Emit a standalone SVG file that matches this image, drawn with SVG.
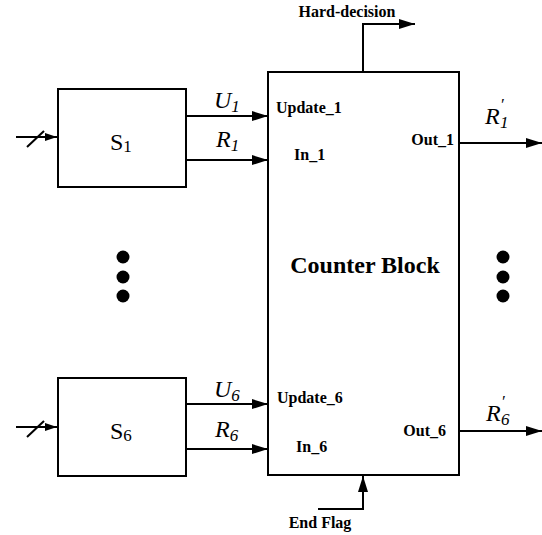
<svg xmlns="http://www.w3.org/2000/svg" width="542" height="535" viewBox="0 0 542 535">
<style>
.box{fill:#fff;stroke:#000;stroke-width:2}
.ln{fill:none;stroke:#000;stroke-width:2}
.b{font-family:"Liberation Serif","Times New Roman",serif;font-weight:bold;font-size:16px;fill:#000}
.r{font-family:"Liberation Serif","Times New Roman",serif;font-size:24px;fill:#000}
.i{font-family:"Liberation Serif","Times New Roman",serif;font-style:italic;font-size:24px;fill:#000}
.dot{fill:#000}
</style>
<defs>
<marker id="ah" markerUnits="userSpaceOnUse" markerWidth="16" markerHeight="10" refX="16" refY="5" orient="auto"><path d="M0,0 L16,5 L0,10 z" fill="#000"/></marker>
<marker id="as" markerUnits="userSpaceOnUse" markerWidth="12" markerHeight="8" refX="12" refY="4" orient="auto"><path d="M0,0 L12,4 L0,8 z" fill="#000"/></marker>
</defs>
<g id="s1">
<rect class="box" x="58" y="89" width="128" height="98"/>
<text class="r" x="110" y="150">S<tspan font-size="17" dy="2">1</tspan></text>
</g>
<g id="s6">
<rect class="box" x="58" y="378" width="128" height="98"/>
<text class="r" x="110" y="439">S<tspan font-size="17" dy="2">6</tspan></text>
</g>
<g id="counter">
<rect class="box" x="268" y="72" width="191" height="403"/>
<text class="r" x="365" y="273" text-anchor="middle" font-weight="bold">Counter Block</text>
<text class="b" x="276" y="113">Update_1</text>
<text class="b" x="294" y="160">In_1</text>
<text class="b" x="454" y="145" text-anchor="end">Out_1</text>
<text class="b" x="277" y="403">Update_6</text>
<text class="b" x="296" y="452">In_6</text>
<text class="b" x="446" y="436" text-anchor="end">Out_6</text>
</g>
<g id="dots-left">
<circle class="dot" cx="123" cy="257" r="6.5"/>
<circle class="dot" cx="123" cy="277" r="6.5"/>
<circle class="dot" cx="123" cy="296" r="6.5"/>
</g>
<g id="dots-right">
<circle class="dot" cx="503" cy="257" r="6.5"/>
<circle class="dot" cx="503" cy="277" r="6.5"/>
<circle class="dot" cx="503" cy="296" r="6.5"/>
</g>
<g id="connectors">
<line class="ln" x1="16" y1="137" x2="57" y2="137" marker-end="url(#as)"/>
<line class="ln" x1="27" y1="147" x2="44" y2="131"/>
<line class="ln" x1="16" y1="427" x2="57" y2="427" marker-end="url(#as)"/>
<line class="ln" x1="27" y1="437" x2="44" y2="421"/>
<line class="ln" x1="186" y1="116" x2="268" y2="116" marker-end="url(#ah)"/>
<line class="ln" x1="186" y1="160" x2="268" y2="160" marker-end="url(#ah)"/>
<line class="ln" x1="186" y1="404" x2="268" y2="404" marker-end="url(#ah)"/>
<line class="ln" x1="186" y1="449" x2="268" y2="449" marker-end="url(#ah)"/>
<line class="ln" x1="459" y1="143" x2="542" y2="143" marker-end="url(#ah)"/>
<line class="ln" x1="459" y1="431" x2="542" y2="431" marker-end="url(#ah)"/>
<polyline class="ln" points="363,72 363,24 415,24" marker-end="url(#ah)"/>
<polyline class="ln" points="318,509 363,509 363,476" marker-end="url(#ah)"/>
</g>
<g id="labels">
<text class="i" x="214" y="108">U<tspan font-size="17" dy="4">1</tspan></text>
<text class="i" x="216" y="147">R<tspan font-size="17" dy="4">1</tspan></text>
<text class="i" x="214" y="397">U<tspan font-size="17" dy="4">6</tspan></text>
<text class="i" x="215" y="437">R<tspan font-size="17" dy="4">6</tspan></text>
<text class="i" x="485" y="124">R<tspan font-size="17" x="500" y="110">′</tspan><tspan font-size="17" x="500" y="128">1</tspan></text>
<text class="i" x="486" y="421">R<tspan font-size="17" x="501" y="407">′</tspan><tspan font-size="17" x="501" y="425">6</tspan></text>
<text class="b" x="347" y="17" text-anchor="middle">Hard-decision</text>
<text class="b" x="320" y="528" text-anchor="middle">End Flag</text>
</g>
</svg>
